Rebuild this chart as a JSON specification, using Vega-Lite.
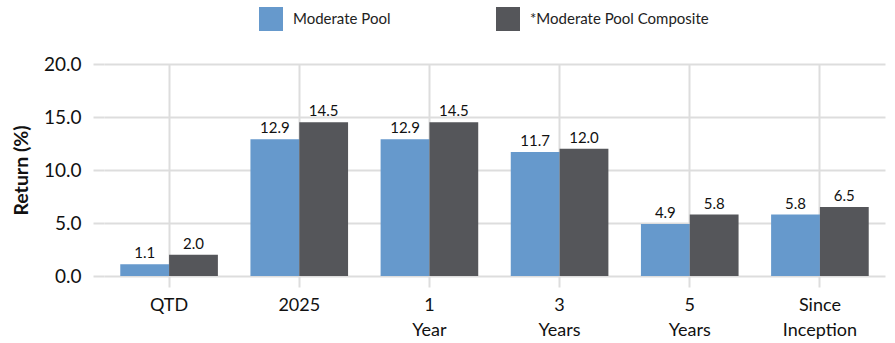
{
  "$schema": "https://vega.github.io/schema/vega-lite/v6.json",
  "width": 781,
  "height": 212,
  "autosize": {"type": "none"},
  "padding": {"left": 104, "top": 64, "right": 10, "bottom": 67},
  "background": "white",
  "config": {
    "font": "Lato",
    "view": {"stroke": null}
  },
  "data": {
    "values": [
      {"period": "QTD", "series": "Moderate Pool", "value": 1.1},
      {"period": "QTD", "series": "*Moderate Pool Composite", "value": 2.0},
      {"period": "2025", "series": "Moderate Pool", "value": 12.9},
      {"period": "2025", "series": "*Moderate Pool Composite", "value": 14.5},
      {"period": "1\nYear", "series": "Moderate Pool", "value": 12.9},
      {"period": "1\nYear", "series": "*Moderate Pool Composite", "value": 14.5},
      {"period": "3\nYears", "series": "Moderate Pool", "value": 11.7},
      {"period": "3\nYears", "series": "*Moderate Pool Composite", "value": 12.0},
      {"period": "5\nYears", "series": "Moderate Pool", "value": 4.9},
      {"period": "5\nYears", "series": "*Moderate Pool Composite", "value": 5.8},
      {"period": "Since\nInception", "series": "Moderate Pool", "value": 5.8},
      {"period": "Since\nInception", "series": "*Moderate Pool Composite", "value": 6.5}
    ]
  },
  "encoding": {
    "x": {
      "field": "period",
      "type": "nominal",
      "sort": null,
      "scale": {"paddingInner": 0.25, "paddingOuter": 0.125},
      "axis": {
        "title": null,
        "labelAngle": 0,
        "labelExpr": "split(datum.value, '\\n')",
        "labelLineHeight": 25,
        "labelFontSize": 18,
        "labelColor": "#111111",
        "labelPadding": 9,
        "bandPosition": 0.5,
        "grid": true,
        "gridColor": "#DDDDDD",
        "gridWidth": 2,
        "ticks": true,
        "tickSize": 11,
        "tickColor": "#DDDDDD",
        "tickWidth": 2,
        "domain": false
      }
    },
    "xOffset": {
      "field": "series",
      "type": "nominal",
      "sort": ["Moderate Pool", "*Moderate Pool Composite"]
    },
    "y": {
      "field": "value",
      "type": "quantitative",
      "scale": {"domain": [0, 20]},
      "axis": {
        "title": "Return (%)",
        "titleFontSize": 19.5,
        "titleFontWeight": "bold",
        "titleColor": "#111111",
        "titlePadding": 12,
        "values": [0, 5, 10, 15, 20],
        "format": ".1f",
        "labelFontSize": 19,
        "labelColor": "#111111",
        "labelPadding": 12,
        "grid": true,
        "gridColor": "#DDDDDD",
        "gridWidth": 2,
        "tickSize": 11,
        "tickColor": "#DDDDDD",
        "tickWidth": 2,
        "domain": false
      }
    },
    "color": {
      "field": "series",
      "type": "nominal",
      "sort": ["Moderate Pool", "*Moderate Pool Composite"],
      "scale": {
        "domain": ["Moderate Pool", "*Moderate Pool Composite"],
        "range": ["#6699CC", "#55565A"]
      },
      "legend": {
        "title": null,
        "orient": "none",
        "legendX": 155,
        "legendY": -57,
        "direction": "horizontal",
        "columns": 2,
        "gridAlign": "none",
        "columnPadding": 105,
        "padding": 0,
        "symbolType": "square",
        "symbolSize": 576,
        "symbolStrokeWidth": 0,
        "symbolOpacity": 1,
        "labelOffset": 10,
        "labelFontSize": 15,
        "labelColor": "#222222",
        "labelLimit": 400
      }
    }
  },
  "layer": [
    {"mark": {"type": "bar"}},
    {
      "mark": {"type": "text", "baseline": "alphabetic", "dy": -6, "fontSize": 15, "color": "#111111"},
      "encoding": {
        "text": {"field": "value", "type": "quantitative", "format": ".1f"},
        "color": {"value": "#111111"}
      }
    }
  ]
}
